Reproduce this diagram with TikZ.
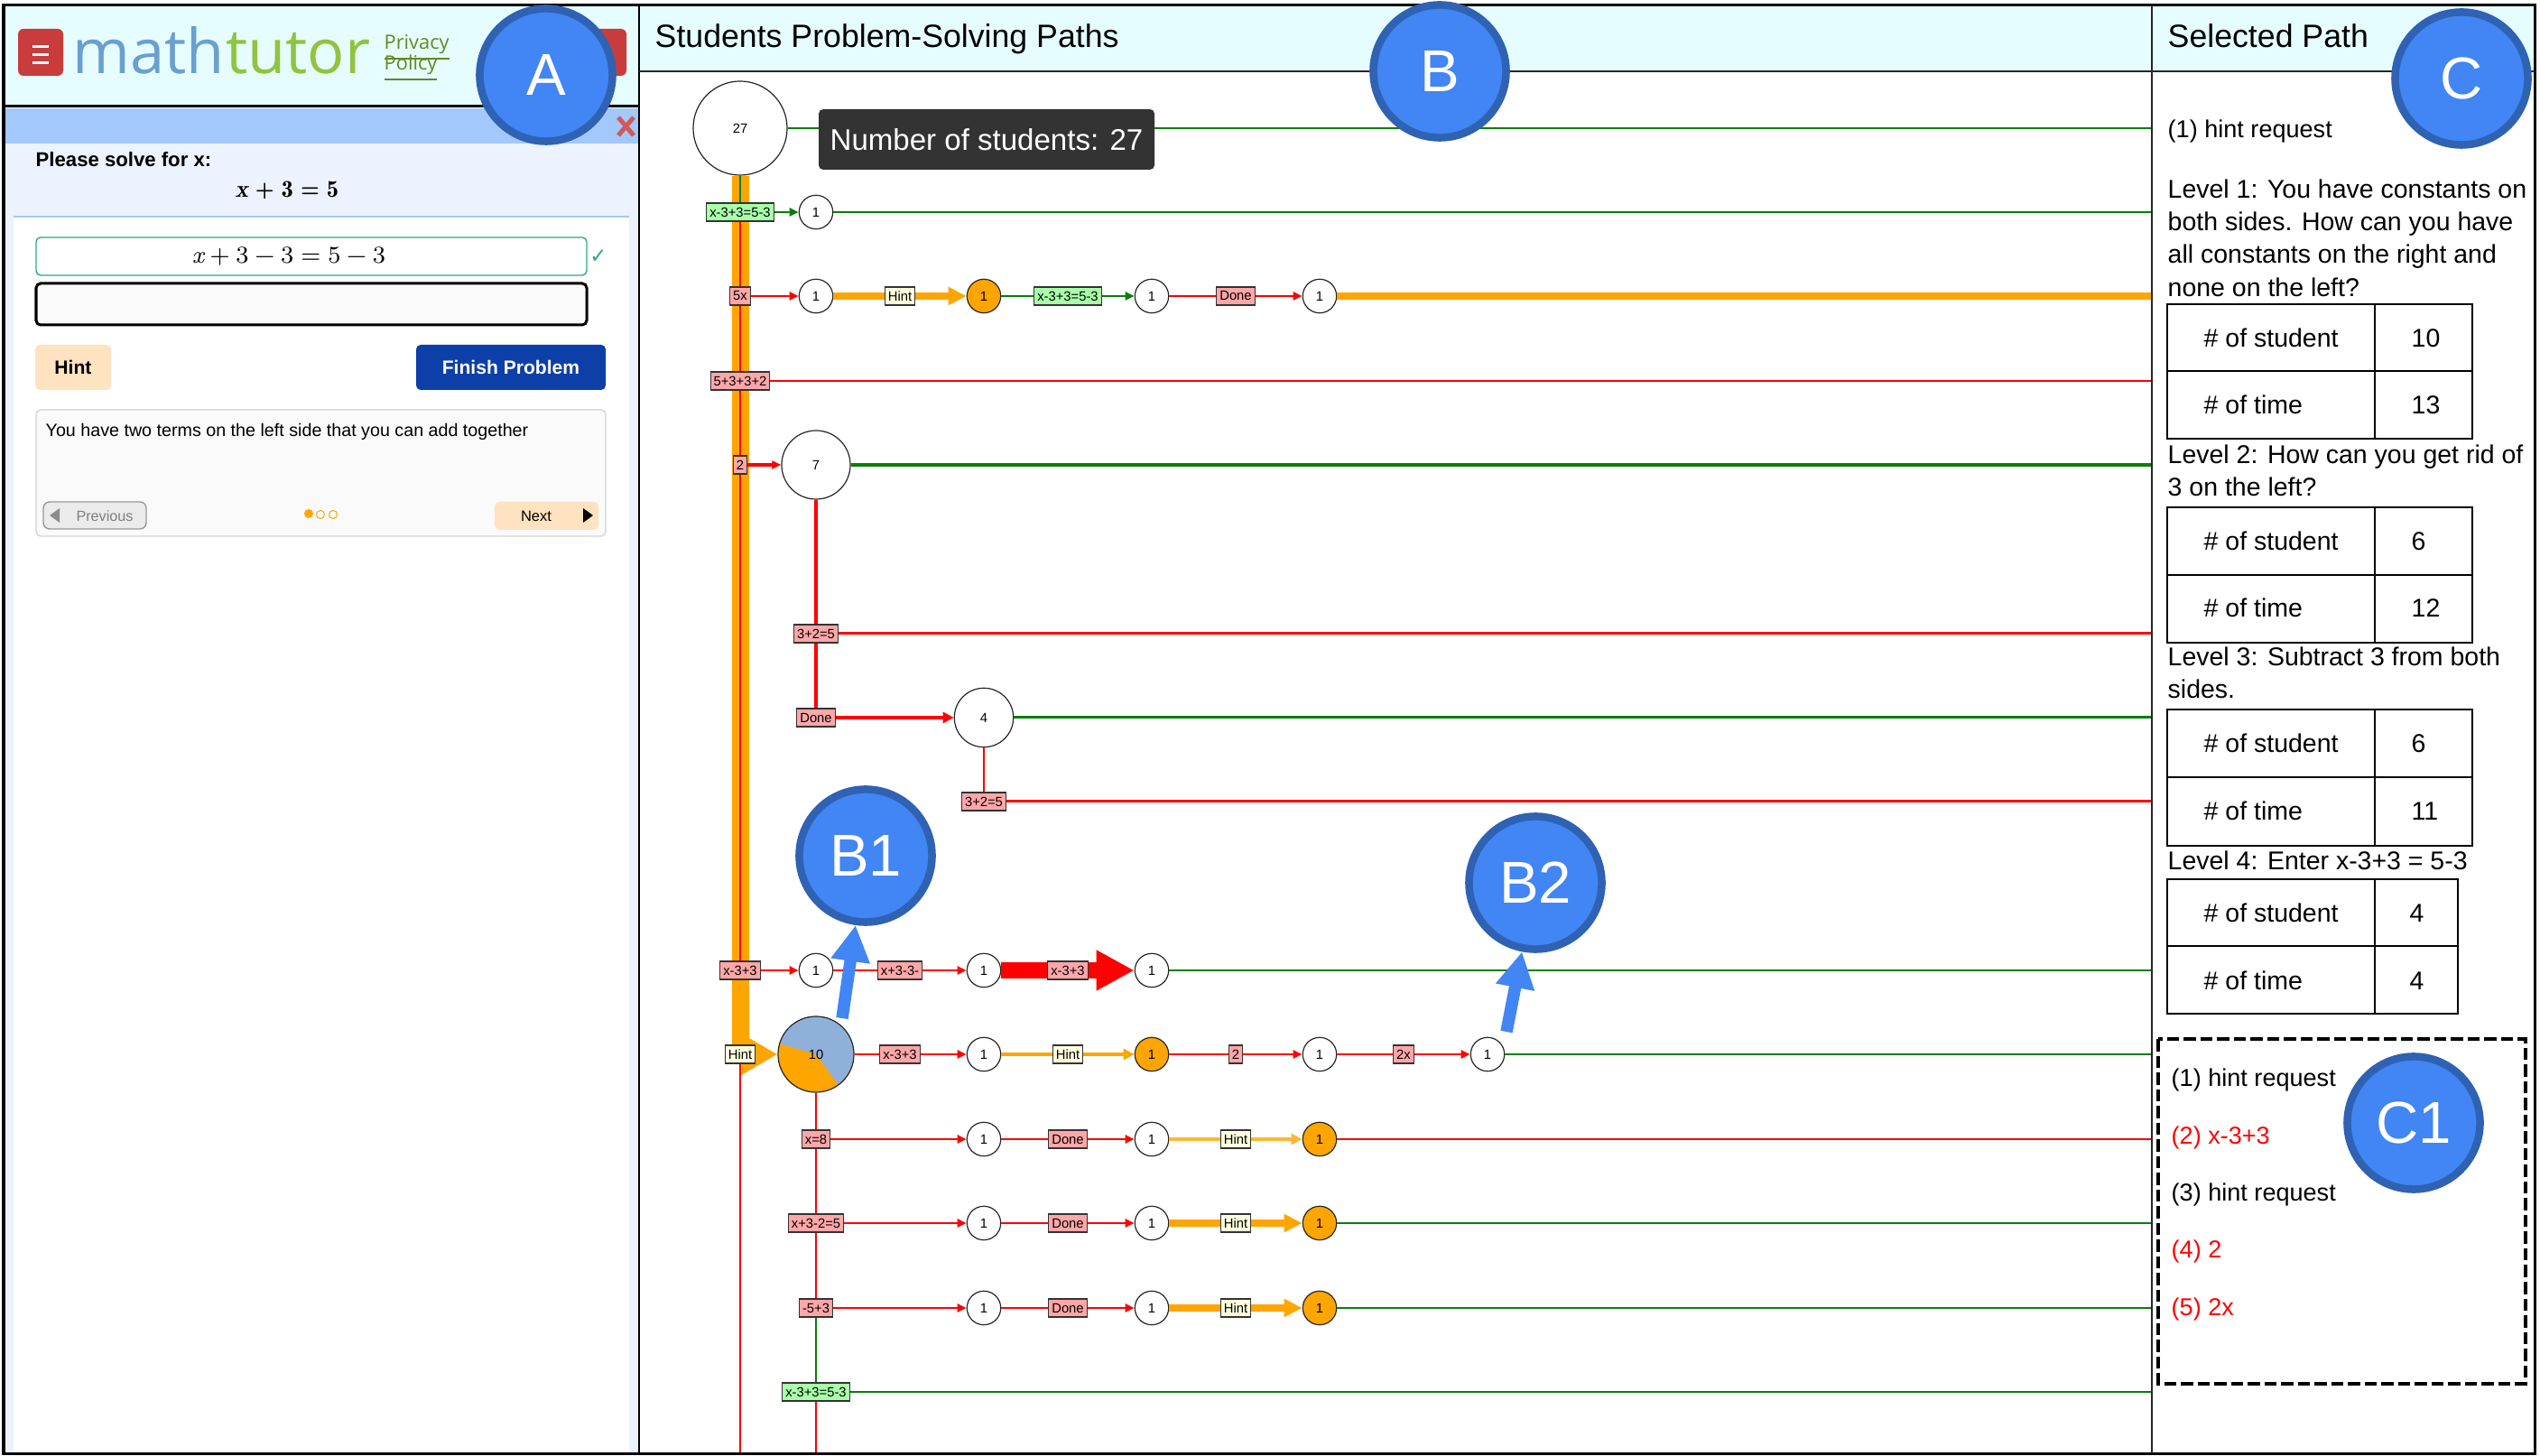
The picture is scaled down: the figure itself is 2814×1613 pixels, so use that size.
\documentclass[tikz,border=0pt]{standalone}
\usepackage[no-math]{fontspec}
\setmainfont{Liberation Sans}
\newfontfamily\logofont{Open Sans}
\newfontfamily\symfont{DejaVu Sans}
\usepackage{tikz}
\usetikzlibrary{arrows.meta, backgrounds}
\definecolor{flowred}{HTML}{FF0000}
\definecolor{flowgreen}{HTML}{087F08}
\definecolor{flowamber}{HTML}{FFA500}
\definecolor{wrongfill}{HTML}{FFA6A8}
\definecolor{rightfill}{HTML}{A9FFA9}
\definecolor{hintfill}{HTML}{FFFFE0}
\definecolor{headfill}{HTML}{E6FDFF}
\definecolor{barblue}{HTML}{A3C8FC}
\definecolor{panelblue}{HTML}{ECF2FE}
\definecolor{markfill}{HTML}{4285F4}
\definecolor{markring}{HTML}{2F62B3}
\definecolor{peach}{HTML}{FFE2C0}
\definecolor{finishblue}{HTML}{0D3FA8}
\definecolor{tealline}{HTML}{2AA88A}
\definecolor{logoblue}{HTML}{6A9FD0}
\definecolor{logogreen}{HTML}{8FC43E}
\definecolor{linkgreen}{HTML}{5F8A1F}
\definecolor{pieblue}{HTML}{8FB0D8}
\definecolor{btnred}{HTML}{C93C3C}
\tikzset{
    stepnode/.style={circle, draw=black!85, fill=white, line width=0.012cm, inner sep=0pt, minimum size=0.374cm, font=\fontsize{4.2}{5}\selectfont},
    wrongbox/.style={draw=black!80, fill=wrongfill, line width=0.012cm, inner sep=1pt, minimum height=0.2cm, font=\fontsize{4.2}{5}\selectfont},
    rightbox/.style={wrongbox, fill=rightfill},
    hintbox/.style={wrongbox, fill=hintfill},
    markdot/.style={circle, draw=markring, fill=markfill, line width=0.085cm, inner sep=0pt, minimum size=1.47cm, text=white, font=\fontsize{18.6}{20}\selectfont},
    redflow/.style={draw=flowred, line width=0.025cm},
    greenflow/.style={draw=flowgreen, line width=0.025cm},
    ambermid/.style={draw=flowamber, line width=0.045cm},
    amberwide/.style={draw=flowamber, line width=0.08cm},
    smalltip/.style={-{Triangle[length=0.1cm,width=0.09cm]}},
    midtip/.style={-{Triangle[length=0.12cm,width=0.12cm]}},
    widetip/.style={-{Triangle[length=0.2cm,width=0.19cm]}},
    pointer/.style={draw=markfill, line width=0.135cm, -{Triangle[length=0.4cm,width=0.41cm]}},
    paneltext/.style={anchor=north west, inner sep=0pt, align=left, font=\fontsize{8.1}{10.33}\selectfont},
    linetext/.style={anchor=base west, inner sep=0pt, font=\fontsize{7.7}{10}\selectfont},
    celltext/.style={anchor=base west, inner sep=0pt, font=\fontsize{8.1}{10}\selectfont},
    titletext/.style={anchor=base west, inner sep=0pt, font=\fontsize{10.15}{12}\selectfont},
    tabline/.style={draw=black, line width=0.014cm},
    softbtn/.style={rounded corners=0.05cm, fill=peach},
    boldtext/.style={inner sep=0pt, font=\fontsize{6}{7}\selectfont\bfseries},
    sumtext/.style={inner sep=0pt, font=\fontfamily{lmr}\fontsize{7.6}{9}\selectfont}
}
\begin{document}
\begin{tikzpicture}[x=0.01cm, y=-0.01cm]
    \useasboundingbox (0,0) rectangle (2814,1613);

    \fill[headfill] (4,6) rectangle (708,116);
    \fill[headfill] (709,6) rectangle (2808,79);
    \fill[barblue] (4,120) rectangle (708,159);
    \fill[panelblue] (4,159) rectangle (708,1610);
    \fill[white] (15,240) rectangle (697,1610);
    \draw[barblue, line width=0.012cm] (15,240) -- (697,240);

    \fill[rounded corners=0.06cm, fill=btnred] (20,32) rectangle (70,84);
    \fill[rounded corners=0.06cm, fill=btnred] (644,32) rectangle (694,84);
    \draw[white, line width=0.03cm] (36,52) -- (54,52) (36,61) -- (54,61) (36,70) -- (54,70);
    \node[anchor=base west, inner sep=0pt, text=logoblue, font=\logofont\fontsize{19.5}{22}\selectfont] at (80,82) (logoa) {math};
    \node[anchor=base west, inner sep=0pt, text=logogreen, font=\logofont\fontsize{19.5}{22}\selectfont] at (logoa.base east) (logob) {tutor};
    \node[anchor=base west, inner sep=0pt, text=linkgreen, font=\logofont\fontsize{6.2}{7}\selectfont] at (425,55) (privacy) {\underline{Privacy}};
    \node[anchor=base west, inner sep=0pt, text=linkgreen, font=\logofont\fontsize{6.2}{7}\selectfont] at (425,78) (policy) {\underline{Policy}};
    \draw[btnred!85, line width=0.05cm] (685,130) -- (702,150) (702,130) -- (685,150);

    \node[anchor=base west, inner sep=0pt, font=\fontsize{6.3}{8}\selectfont\bfseries] at (39,185) (ask) {Please solve for x:};
    \node[sumtext] at (318,211) (task) {\bfseries\itshape x\upshape\hspace{0.3em}+\hspace{0.3em}3\hspace{0.3em}=\hspace{0.3em}5};
    \draw[draw=tealline, fill=white, rounded corners=0.05cm, line width=0.014cm] (40,263) rectangle (650,305);
    \node[sumtext] at (320,284) (stepa) {\itshape x\upshape\hspace{0.25em}+\hspace{0.25em}3\hspace{0.25em}−\hspace{0.25em}3\hspace{0.3em}=\hspace{0.3em}5\hspace{0.25em}−\hspace{0.25em}3};
    \node[inner sep=0pt, text=tealline, font=\symfont\fontsize{6.5}{8}\selectfont] at (663,284) (okmark) {✓};
    \draw[draw=black, fill=black!2, rounded corners=0.05cm, line width=0.03cm] (40,314) rectangle (650,360);
    \fill[softbtn] (39,382) rectangle (123,432);
    \node[boldtext] at (81,407) (hintbtn) {Hint};
    \fill[rounded corners=0.05cm, fill=finishblue] (461,382) rectangle (671,432);
    \node[boldtext, text=white] at (566,407) (finishbtn) {Finish Problem};
    \draw[draw=black!18, fill=black!2, rounded corners=0.05cm, line width=0.012cm] (40,454) rectangle (671,594);
    \node[anchor=base west, inner sep=0pt, font=\fontsize{5.6}{7}\selectfont] at (50,484) (hinttext) {You have two terms on the left side that you can add together};
    \draw[draw=black!40, fill=black!8, rounded corners=0.07cm, line width=0.014cm] (48,556) rectangle (162,586);
    \fill[black!45] (55,571) -- (66,563) -- (66,579) -- cycle;
    \node[inner sep=0pt, text=black!50, font=\fontsize{4.6}{6}\selectfont] at (116,572) (prevbtn) {Previous};
    \fill[flowamber] (342,569) circle [radius=0.05cm];
    \draw[flowamber, line width=0.01cm] (355,570) circle [radius=0.045cm] (369,570) circle [radius=0.045cm];
    \fill[softbtn] (548,556) rectangle (663,587);
    \node[inner sep=0pt, font=\fontsize{4.7}{6}\selectfont] at (594,572) (nextbtn) {Next};
    \fill[black] (657,571) -- (646,563) -- (646,579) -- cycle;

    \node[titletext] at (725,53) (pathstitle) {Students Problem-Solving Paths};
    \node[titletext] at (2401,53) (selecttitle) {Selected Path};

    \coordinate (e0) at (2384,142);
    \coordinate (e1) at (2384,235);
    \coordinate (e2) at (2384,328);
    \coordinate (e3) at (2384,422);
    \coordinate (e4) at (2384,515);
    \coordinate (e6) at (2384,702);
    \coordinate (e7) at (2384,795);
    \coordinate (e8) at (2384,888);
    \coordinate (e10) at (2384,1075);
    \coordinate (e11) at (2384,1168);
    \coordinate (e12) at (2384,1262);
    \coordinate (e13) at (2384,1355);
    \coordinate (e14) at (2384,1449);
    \coordinate (e15) at (2384,1542);
    \coordinate (f0) at (820,1610);
    \coordinate (f1) at (904,1610);

    \node[stepnode, minimum size=1.04cm] at (820,142) (root) {27};

    \node[rightbox] at (820,235) (a1) {x-3+3=5-3};
    \node[stepnode] at (904,235) (b1) {1};

    \node[wrongbox] at (820,328) (a2) {5x};
    \node[stepnode] at (904,328) (b2) {1};
    \node[hintbox] at (997,328) (c2) {Hint};
    \node[stepnode, fill=flowamber] at (1090,328) (d2) {1};
    \node[rightbox] at (1183,328) (g2) {x-3+3=5-3};
    \node[stepnode] at (1276,328) (h2) {1};
    \node[wrongbox] at (1369,328) (i2) {Done};
    \node[stepnode] at (1462,328) (j2) {1};

    \node[wrongbox] at (820,422) (a3) {5+3+3+2};

    \node[wrongbox] at (820,515) (a4) {2};
    \node[stepnode, minimum size=0.76cm] at (904,515) (b4) {7};
    \node[wrongbox] at (904,702) (b6) {3+2=5};
    \node[wrongbox] at (904,795) (b7) {Done};
    \node[stepnode, minimum size=0.654cm] at (1090,795) (d7) {4};
    \node[wrongbox] at (1090,888) (d8) {3+2=5};

    \node[wrongbox] at (820,1075) (a10) {x-3+3};
    \node[stepnode] at (904,1075) (b10) {1};
    \node[wrongbox] at (997,1075) (c10) {x+3-3-};
    \node[stepnode] at (1090,1075) (d10) {1};
    \node[wrongbox] at (1183,1075) (g10) {x-3+3};
    \node[stepnode] at (1276,1075) (h10) {1};

    \node[hintbox] at (820,1168) (a11) {Hint};
    \node[stepnode, minimum size=0.84cm, fill=pieblue, path picture={\fill[flowamber] (path picture bounding box.center) -- ++(164:0.5cm) arc[start angle=164, end angle=306, radius=0.5cm] -- cycle;}] at (904,1168) (b11) {10};
    \node[wrongbox] at (997,1168) (c11) {x-3+3};
    \node[stepnode] at (1090,1168) (d11) {1};
    \node[hintbox] at (1183,1168) (g11) {Hint};
    \node[stepnode, fill=flowamber] at (1276,1168) (h11) {1};
    \node[wrongbox] at (1369,1168) (i11) {2};
    \node[stepnode] at (1462,1168) (j11) {1};
    \node[wrongbox] at (1555,1168) (k11) {2x};
    \node[stepnode] at (1648,1168) (l11) {1};

    \node[wrongbox] at (904,1262) (b12) {x=8};
    \node[stepnode] at (1090,1262) (d12) {1};
    \node[wrongbox] at (1183,1262) (g12) {Done};
    \node[stepnode] at (1276,1262) (h12) {1};
    \node[hintbox] at (1369,1262) (i12) {Hint};
    \node[stepnode, fill=flowamber] at (1462,1262) (j12) {1};

    \node[wrongbox] at (904,1355) (b13) {x+3-2=5};
    \node[stepnode] at (1090,1355) (d13) {1};
    \node[wrongbox] at (1183,1355) (g13) {Done};
    \node[stepnode] at (1276,1355) (h13) {1};
    \node[hintbox] at (1369,1355) (i13) {Hint};
    \node[stepnode, fill=flowamber] at (1462,1355) (j13) {1};

    \node[wrongbox] at (904,1449) (b14) {-5+3};
    \node[stepnode] at (1090,1449) (d14) {1};
    \node[wrongbox] at (1183,1449) (g14) {Done};
    \node[stepnode] at (1276,1449) (h14) {1};
    \node[hintbox] at (1369,1449) (i14) {Hint};
    \node[stepnode, fill=flowamber] at (1462,1449) (j14) {1};

    \node[rightbox] at (904,1542) (b15) {x-3+3=5-3};

    \begin{scope}[on background layer]
        \draw[draw=flowamber, line width=0.19cm] (root) -- (a11.center);
        \draw[draw=flowamber, line width=0.19cm, -{Triangle[length=0.4cm,width=0.43cm]}] (a11.center) -- (b11);
    \end{scope}

    \draw[greenflow] (root) -- (e0);
    \draw[greenflow] (root) -- (a1);
    \draw[redflow] (a1) -- (a2);
    \draw[redflow] (a2) -- (a3);
    \draw[redflow] (a3) -- (a4);
    \draw[redflow] (a4) -- (a10);
    \draw[redflow] (a11) -- (f0);

    \draw[greenflow, smalltip] (a1) -- (b1);
    \draw[greenflow] (b1) -- (e1);

    \draw[redflow, smalltip] (a2) -- (b2);
    \draw[amberwide] (b2) -- (c2);
    \draw[amberwide, widetip] (c2) -- (d2);
    \draw[greenflow] (d2) -- (g2);
    \draw[greenflow, smalltip] (g2) -- (h2);
    \draw[redflow] (h2) -- (i2);
    \draw[redflow, smalltip] (i2) -- (j2);
    \draw[amberwide] (j2) -- (e2);

    \draw[redflow] (a3) -- (e3);

    \draw[redflow, line width=0.035cm, smalltip] (a4) -- (b4);
    \draw[greenflow, line width=0.04cm] (b4) -- (e4);
    \draw[redflow, line width=0.04cm] (b4) -- (b6);
    \draw[redflow, line width=0.04cm] (b6) -- (b7);
    \draw[redflow, line width=0.03cm] (b6) -- (e6);
    \draw[redflow, line width=0.045cm, -{Triangle[length=0.12cm,width=0.12cm]}] (b7) -- (d7);
    \draw[greenflow, line width=0.03cm] (d7) -- (e7);
    \draw[redflow] (d7) -- (d8);
    \draw[redflow, line width=0.03cm] (d8) -- (e8);

    \draw[redflow, smalltip] (a10) -- (b10);
    \draw[redflow] (b10) -- (c10);
    \draw[redflow, smalltip] (c10) -- (d10);
    \draw[redflow, line width=0.18cm] (d10) -- (g10);
    \draw[redflow, line width=0.18cm, -{Triangle[length=0.42cm,width=0.42cm]}] (g10) -- (h10);
    \draw[greenflow] (h10) -- (e10);

    \draw[redflow] (b11) -- (c11);
    \draw[redflow, smalltip] (c11) -- (d11);
    \draw[ambermid] (d11) -- (g11);
    \draw[ambermid, midtip] (g11) -- (h11);
    \draw[redflow] (h11) -- (i11);
    \draw[redflow, smalltip] (i11) -- (j11);
    \draw[redflow] (j11) -- (k11);
    \draw[redflow, smalltip] (k11) -- (l11);
    \draw[greenflow] (l11) -- (e11);

    \draw[redflow, line width=0.02cm] (b11) -- (b12);
    \draw[redflow, line width=0.02cm] (b12) -- (b13);
    \draw[redflow, line width=0.02cm] (b13) -- (b14);
    \draw[greenflow, line width=0.02cm] (b14) -- (b15);
    \draw[redflow, line width=0.02cm] (b15) -- (f1);

    \draw[redflow, smalltip] (b12) -- (d12);
    \draw[redflow] (d12) -- (g12);
    \draw[redflow, smalltip] (g12) -- (h12);
    \draw[ambermid, draw=flowamber!80] (h12) -- (i12);
    \draw[ambermid, draw=flowamber!80, midtip] (i12) -- (j12);
    \draw[redflow] (j12) -- (e12);

    \draw[redflow, smalltip] (b13) -- (d13);
    \draw[redflow] (d13) -- (g13);
    \draw[redflow, smalltip] (g13) -- (h13);
    \draw[amberwide] (h13) -- (i13);
    \draw[amberwide, widetip] (i13) -- (j13);
    \draw[greenflow] (j13) -- (e13);

    \draw[redflow, smalltip] (b14) -- (d14);
    \draw[redflow] (d14) -- (g14);
    \draw[redflow, smalltip] (g14) -- (h14);
    \draw[amberwide] (h14) -- (i14);
    \draw[amberwide, widetip] (i14) -- (j14);
    \draw[greenflow] (j14) -- (e14);

    \draw[greenflow] (b15) -- (e15);

    \fill[rounded corners=0.05cm, fill=black!80] (907,121) rectangle (1279,188);
    \node[text=white, inner sep=0pt, font=\fontsize{9.4}{11}\selectfont] at (1093,155) (tooltip) {Number of students: 27};

    \node[linetext] at (2401,153) (path1) {(1) hint request};
    \node[paneltext] at (2401,198) (level1) {Level 1: You have constants on\\both sides. How can you have\\all constants on the right and\\none on the left?};
    \draw[tabline] (2401,337) rectangle (2739,486) (2401,411) -- (2739,411) (2631,337) -- (2631,486);
    \node[celltext] at (2441,385) (t1a) {\# of student};
    \node[celltext] at (2441,459) (t1b) {\# of time};
    \node[celltext] at (2671,385) (t1c) {10};
    \node[celltext] at (2671,459) (t1d) {13};
    \node[paneltext] at (2401,492) (level2) {Level 2: How can you get rid of\\3 on the left?};
    \draw[tabline] (2401,562) rectangle (2739,712) (2401,637) -- (2739,637) (2631,562) -- (2631,712);
    \node[celltext] at (2441,610) (t2a) {\# of student};
    \node[celltext] at (2441,684) (t2b) {\# of time};
    \node[celltext] at (2671,610) (t2c) {6};
    \node[celltext] at (2671,684) (t2d) {12};
    \node[paneltext] at (2401,716) (level3) {Level 3: Subtract 3 from both\\sides.};
    \draw[tabline] (2401,786) rectangle (2739,937) (2401,861) -- (2739,861) (2631,786) -- (2631,937);
    \node[celltext] at (2441,834) (t3a) {\# of student};
    \node[celltext] at (2441,909) (t3b) {\# of time};
    \node[celltext] at (2671,834) (t3c) {6};
    \node[celltext] at (2671,909) (t3d) {11};
    \node[celltext] at (2401,964) (level4) {Level 4: Enter x-3+3 = 5-3};
    \draw[tabline] (2401,974) rectangle (2723,1123) (2401,1048) -- (2723,1048) (2631,974) -- (2631,1123);
    \node[celltext] at (2441,1022) (t4a) {\# of student};
    \node[celltext] at (2441,1097) (t4b) {\# of time};
    \node[celltext] at (2669,1022) (t4c) {4};
    \node[celltext] at (2669,1097) (t4d) {4};

    \draw[black, line width=0.045cm, dash pattern=on 0.135cm off 0.05cm] (2391,1151) rectangle (2798,1533);
    \node[linetext] at (2405,1204) (s1) {(1) hint request};
    \node[linetext, text=flowred] at (2405,1268) (s2) {(2) x-3+3};
    \node[linetext] at (2405,1331) (s3) {(3) hint request};
    \node[linetext, text=flowred] at (2405,1394) (s4) {(4) 2};
    \node[linetext, text=flowred] at (2405,1458) (s5) {(5) 2x};

    \draw[black, line width=0.03cm] (4,6) rectangle (2808,1610);
    \draw[black, line width=0.03cm] (4,118) -- (708,118);
    \draw[black, line width=0.025cm] (708,6) -- (708,1610);
    \draw[black!85, line width=0.02cm] (708,79) -- (2808,79);
    \draw[black!85, line width=0.02cm] (2384,6) -- (2384,1610);

    \node[markdot] at (605,83) (A) {A};
    \node[markdot] at (1595,79) (B) {B};
    \node[markdot] at (2727,87) (C) {C};
    \node[markdot] at (959,948) (B1) {B1};
    \node[markdot] at (1701,978) (B2) {B2};
    \node[markdot] at (2674,1244) (C1) {C1};
    \coordinate (tail1) at (933,1128);
    \coordinate (tail2) at (1669,1143);
    \draw[pointer] (tail1) -- (B1);
    \draw[pointer] (tail2) -- (B2);
\end{tikzpicture}
\end{document}
